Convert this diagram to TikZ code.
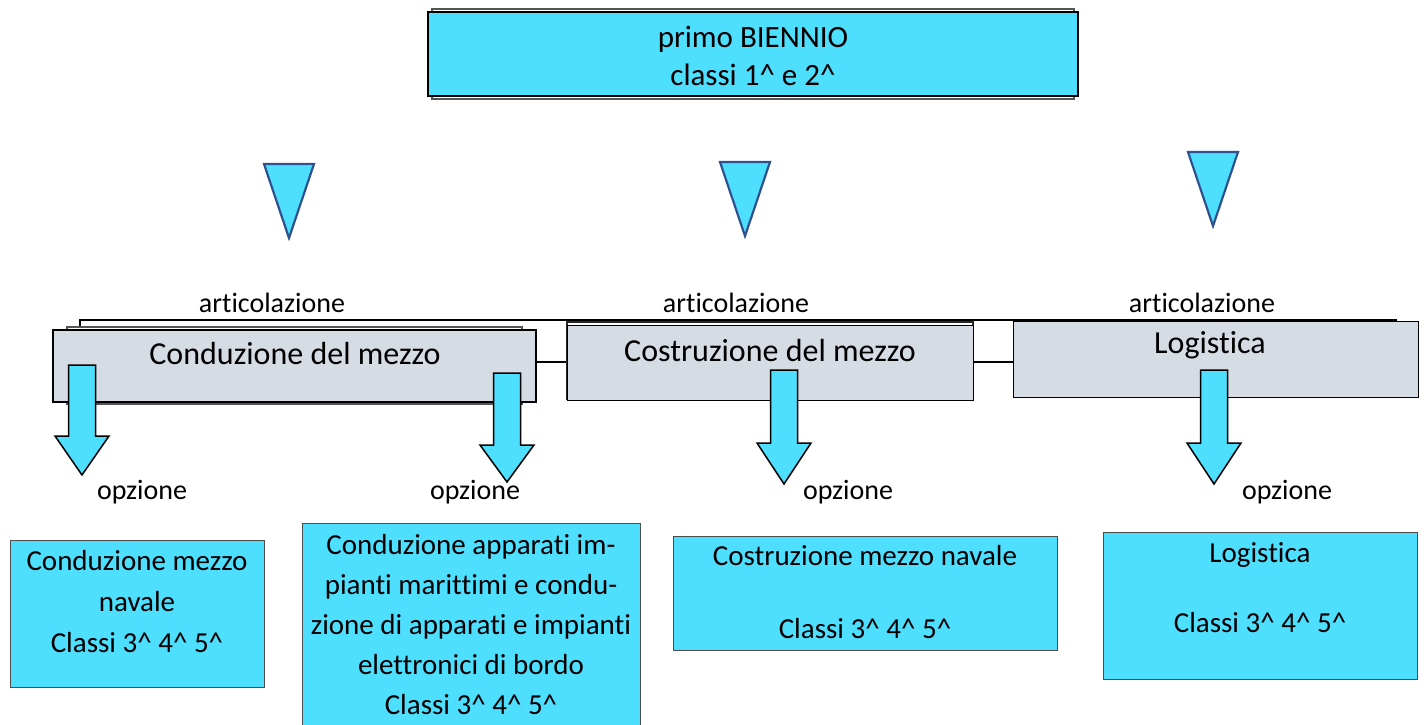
\documentclass[tikz,border=0pt]{standalone}
\usepackage{fontspec}
\setmainfont[Ligatures={NoCommon}]{Carlito}
\usetikzlibrary{calc}
\definecolor{cy}{RGB}{78,223,255}
\definecolor{gb}{RGB}{214,220,228}
\definecolor{tb}{RGB}{47,82,143}
\definecolor{sh}{RGB}{85,85,85}
\newcommand\ca{\textasciicircum}
\newcommand\blkarr[4]{%
  \draw[barrow] (#1-13.5,#2) -- (#1+13.5,#2) -- (#1+13.5,#3) -- (#1+27,#3) -- (#1,#4) -- (#1-27,#3) -- (#1-13.5,#3) -- cycle;}
\begin{document}
\begin{tikzpicture}[x=1pt,y=-1pt,
  topbox/.style={draw=black, line width=2pt, fill=cy, inner sep=0pt},
  shbox/.style={draw=sh, line width=2pt},
  gbox/.style={draw=black, line width=1pt, fill=gb, inner sep=0pt},
  cbox/.style={draw=black!70, line width=1pt, fill=cy, inner sep=0pt},
  tri/.style={fill=cy, draw=tb, line width=2.2pt, line join=miter},
  barrow/.style={fill=cy, draw=black, line width=1.5pt, line join=miter},
  lbl/.style={font=\fontsize{28}{34}\selectfont, inner sep=0pt, anchor=base},
  gtxt/.style={font=\fontsize{32}{36}\selectfont, inner sep=0pt, anchor=base},
  btxt/.style={font=\fontsize{29}{41}\selectfont, inner sep=0pt, align=center},
  conn/.style={draw=black, line width=2pt}]
\useasboundingbox (0,0) rectangle (1424,724);
\clip (0,0) rectangle (1424,724);

% top box
\draw[shbox] (432,9) rectangle (1074,99);
\node[topbox, minimum width=650pt, minimum height=84pt] (top) at (753,54) {};
\node[btxt, font=\fontsize{31}{38}\selectfont] (toptxt) at (753,56) {primo BIENNIO\\classi 1\ca{} e 2\ca};

% triangles
\coordinate (t1) at (289,238);
\coordinate (t2) at (745,236);
\coordinate (t3) at (1213,226);
\foreach \t in {t1,t2,t3}{
  \draw[tri] ($(\t)+(-25,-74)$) -- ($(\t)+(25,-74)$) -- (\t) -- cycle;
}

% articolazione labels
\node[lbl] (a1) at (272,312) {articolazione};
\node[lbl] (a2) at (736,312) {articolazione};
\node[lbl] (a3) at (1202,312) {articolazione};

% connecting lines
\coordinate (lstart) at (80,327);
\coordinate (lend) at (1397,320);
\draw[conn, line join=miter] (lstart) -- (lstart |- lend) -- (lend);

% gray boxes
\draw[draw=sh, line width=1.5pt] (67,327) rectangle (522,404);
\node[gbox, line width=2pt, minimum width=483pt, minimum height=72pt] (g1) at (294.5,366) {};
\node[gbox, minimum width=405pt, minimum height=76pt] (g3) at (1215.5,359) {};
\draw[conn] ([yshift=4pt]g1.east) -- ([yshift=4pt]g1.east -| g3.west);
\draw[draw=black!85, line width=2pt] (567,322) rectangle (973,399);
\node[gbox, minimum width=406pt, minimum height=75pt] (g2) at (770,362.5) {};
\node[gtxt] (g1t) at (295,364) {Conduzione del mezzo};
\node[gtxt] (g2t) at (770,361) {Costruzione del mezzo};
\node[gtxt] (g3t) at (1210,353) {Logistica};

% block arrows
\blkarr{82}{365}{436}{475}
\blkarr{507}{373}{445}{482}
\blkarr{784}{370}{443}{484}
\blkarr{1214}{370}{443}{484}

% opzione labels
\node[lbl] (o1) at (142,499) {opzione};
\node[lbl] (o2) at (475,499) {opzione};
\node[lbl] (o3) at (848,499) {opzione};
\node[lbl] (o4) at (1287,499) {opzione};

% bottom boxes
\node[cbox, minimum width=254pt, minimum height=147pt] (b1) at (137,613.5) {};
\node[btxt] (b1t) at (137,602) {Conduzione mezzo\\navale\\Classi 3\ca{} 4\ca{} 5\ca};
\node[cbox, minimum width=338pt, minimum height=217pt] (b2) at (471,631.5) {};
\node[btxt, font=\fontsize{29}{40}\selectfont] (b2t) at (471,625) {Conduzione apparati im-\\pianti marittimi e condu-\\zione di apparati e impianti\\elettronici di bordo\\Classi 3\ca{} 4\ca{} 5\ca};
\node[cbox, minimum width=384pt, minimum height=114pt] (b3) at (865,593) {};
\node[btxt, font=\fontsize{29}{36}\selectfont] (b3t) at (865,592) {Costruzione mezzo navale\\[37pt]Classi 3\ca{} 4\ca{} 5\ca};
\node[cbox, minimum width=314pt, minimum height=147pt] (b4) at (1260,605.5) {};
\node[btxt, font=\fontsize{29}{35}\selectfont] (b4t) at (1260,587.5) {Logistica\\[35pt]Classi 3\ca{} 4\ca{} 5\ca};
\end{tikzpicture}
\end{document}
